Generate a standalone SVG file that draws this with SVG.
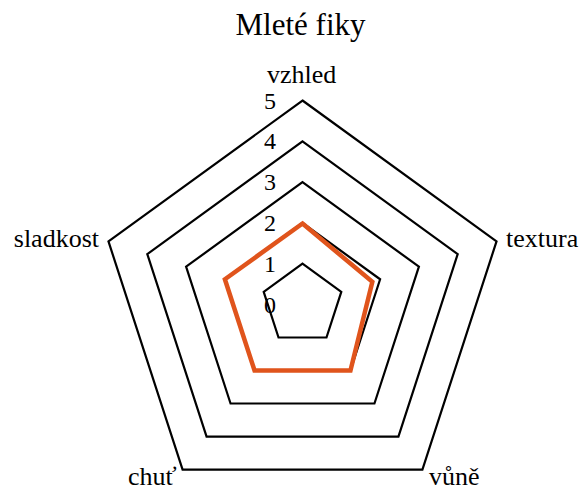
<svg xmlns="http://www.w3.org/2000/svg" width="581" height="491" viewBox="0 0 581 491">
<style>
.title{font-size:31px}
.lab{font-size:26px}
.num{font-size:24px}
.grid{fill:none;stroke:#000;stroke-width:2.2;stroke-linejoin:miter}
.data{fill:none;stroke:#E0541C;stroke-width:4.5;stroke-linejoin:miter}
</style>
<rect width="581" height="491" fill="#fff"/>
<g font-family="'Liberation Serif', 'DejaVu Serif', serif" fill="#000">
<text class="title" x="300.5" y="35" text-anchor="middle">Mleté fiky</text>
<g id="grid">
<polygon class="grid" points="302.5,263.7 341.3,291.9 326.48,337.51 278.52,337.51 263.7,291.9"/>
<polygon class="grid" points="302.5,222.9 380.11,279.28 350.46,370.52 254.54,370.52 224.89,279.28"/>
<polygon class="grid" points="302.5,182.1 418.91,266.68 374.45,403.52 230.55,403.52 186.09,266.68"/>
<polygon class="grid" points="302.5,141.3 457.71,254.07 398.43,436.53 206.57,436.53 147.29,254.07"/>
<polygon class="grid" points="302.5,100.5 496.52,241.46 422.41,469.54 182.59,469.54 108.48,241.46"/>
</g>
<g id="scale">
<text class="num" x="276" y="312.5" text-anchor="end">0</text>
<text class="num" x="276" y="271.7" text-anchor="end">1</text>
<text class="num" x="276" y="230.9" text-anchor="end">2</text>
<text class="num" x="276" y="190.1" text-anchor="end">3</text>
<text class="num" x="276" y="149.3" text-anchor="end">4</text>
<text class="num" x="276" y="108.5" text-anchor="end">5</text>
</g>
<g id="series">
<polygon class="data" points="302.5,223.5 372.35,281.81 350.46,370.52 254.54,370.52 224.89,279.28"/>
</g>
<g id="axis-vzhled"><text class="lab" x="301.7" y="83" text-anchor="middle">vzhled</text></g>
<g id="axis-textura"><text class="lab" x="506" y="247">textura</text></g>
<g id="axis-vune"><text class="lab" x="429" y="485">vůně</text></g>
<g id="axis-chut"><text class="lab" x="128" y="485">chuť</text></g>
<g id="axis-sladkost"><text class="lab" x="99" y="247" text-anchor="end">sladkost</text></g>
</g>
</svg>
